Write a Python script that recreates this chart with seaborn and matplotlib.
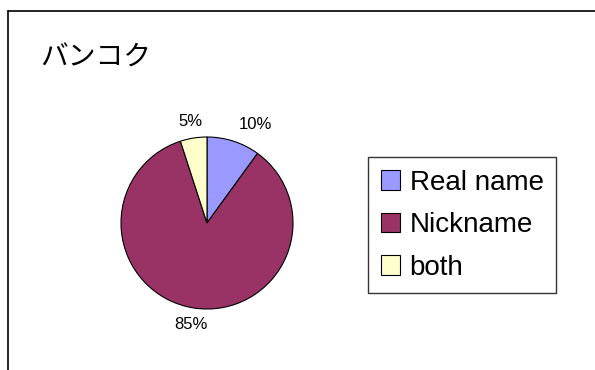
import matplotlib
matplotlib.use("Agg")
import matplotlib.pyplot as plt
import seaborn as sns
from matplotlib.lines import Line2D

categories = ["Real name", "Nickname", "both"]
values = [10, 85, 5]
colors = ["#9999FF", "#993366", "#FFFFCC"]
title = "バンコク"

sns.set_theme(style="white")
plt.rcParams['font.family'] = ['Liberation Sans', 'Noto Sans CJK JP', 'DejaVu Sans']
plt.rcParams['text.color'] = 'black'

W, H = 595, 370
fig = plt.figure(figsize=(W / 100, H / 100), dpi=100)
fig.patch.set_facecolor("white")

# outer chart-area frame (top and left edges visible)
fig.add_artist(Line2D([8 / W, 8 / W], [0, 1 - 11 / H], color="black", lw=1.2, transform=fig.transFigure))
fig.add_artist(Line2D([8 / W, 1], [1 - 11 / H, 1 - 11 / H], color="black", lw=1.2, transform=fig.transFigure))

cx, cy, r = 207, 223, 86
ax = fig.add_axes([(cx - r) / W, (H - cy - r) / H, 2 * r / W, 2 * r / H])
wedges, texts, autotexts = ax.pie(
    values, colors=colors, startangle=90, counterclock=False,
    autopct="%1.0f%%", pctdistance=1.2,
    wedgeprops=dict(edgecolor="black", linewidth=0.8),
    textprops=dict(fontsize=12, color="black",
                   fontfamily=["Liberation Sans Narrow", "Liberation Sans"]),
)
autotexts[0].set_ha("left")
ax.set_xlim(-1, 1)
ax.set_ylim(-1, 1)
ax.set_aspect("equal")
ax.axis("off")

fig.text(40 / W, 1 - 58 / H, title, fontsize=20, va="center", ha="left",
         color="black", family=["Noto Sans CJK JP", "DejaVu Sans"])

leg = fig.legend(wedges, categories, loc="upper left",
                 bbox_to_anchor=(368 / W, 1 - 157 / H),
                 fontsize=20, frameon=True, fancybox=False,
                 handlelength=0.7, handleheight=0.7, handletextpad=0.35,
                 labelspacing=0.6, borderpad=0.45, borderaxespad=0)
leg.get_frame().set_edgecolor("black")
leg.get_frame().set_linewidth(1.0)
for t in leg.get_texts():
    t.set_color("black")

fig.savefig("out.png", dpi=100, facecolor="white")
